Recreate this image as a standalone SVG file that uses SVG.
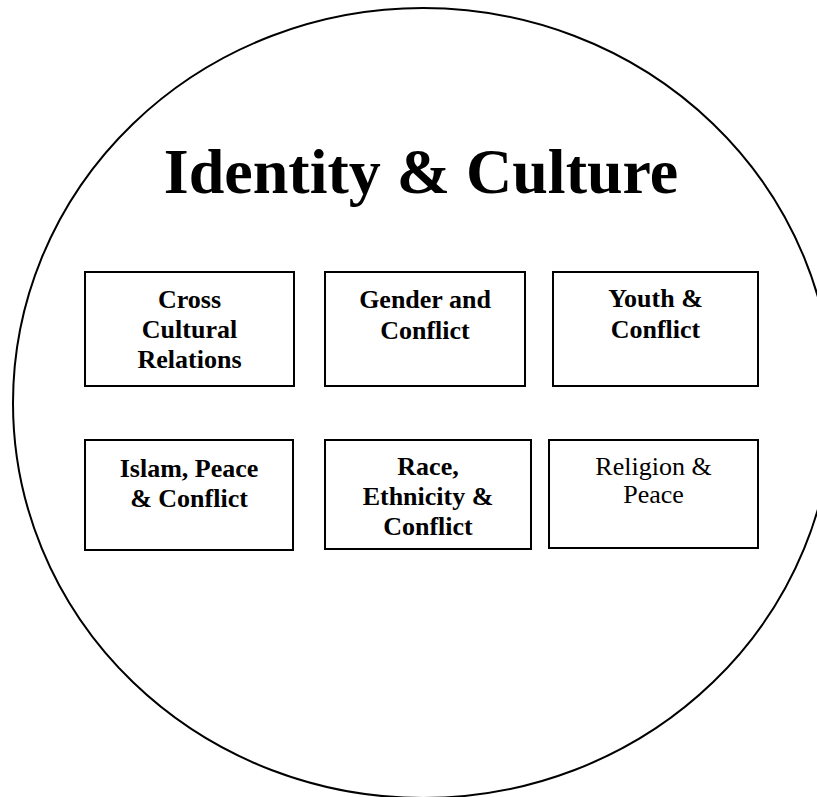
<svg xmlns="http://www.w3.org/2000/svg" width="817" height="797" viewBox="0 0 817 797">
<style>
.box{fill:#fff;stroke:#000;stroke-width:2}
.t{font-family:"Liberation Serif","Times New Roman",serif;font-size:26px;font-weight:bold;text-anchor:middle;fill:#000}
.r{font-weight:normal}
.title{font-family:"Liberation Serif","Times New Roman",serif;font-size:64px;font-weight:bold;text-anchor:middle;fill:#000}
</style>
<rect width="817" height="797" fill="#fff"/>
<g id="circle">
<ellipse cx="423" cy="403" rx="410" ry="395" fill="none" stroke="#000" stroke-width="2"/>
<text class="title" x="421" y="193">Identity &amp; Culture</text>
</g>
<g id="connectors"></g>
<g id="cross">
<rect class="box" x="85" y="272" width="209" height="114"/>
<text class="t" x="189.5" y="308">Cross</text>
<text class="t" x="189.5" y="338">Cultural</text>
<text class="t" x="189.5" y="368">Relations</text>
</g>
<g id="gender">
<rect class="box" x="325" y="272" width="200" height="114"/>
<text class="t" x="425" y="308">Gender and</text>
<text class="t" x="425" y="339">Conflict</text>
</g>
<g id="youth">
<rect class="box" x="553" y="272" width="205" height="114"/>
<text class="t" x="655.5" y="307">Youth &amp;</text>
<text class="t" x="655.5" y="338">Conflict</text>
</g>
<g id="islam">
<rect class="box" x="85" y="440" width="208" height="110"/>
<text class="t" x="189" y="477">Islam, Peace</text>
<text class="t" x="189" y="507">&amp; Conflict</text>
</g>
<g id="race">
<rect class="box" x="325" y="440" width="206" height="109"/>
<text class="t" x="428" y="475">Race,</text>
<text class="t" x="428" y="505">Ethnicity &amp;</text>
<text class="t" x="428" y="535">Conflict</text>
</g>
<g id="religion">
<rect class="box" x="549" y="440" width="209" height="108"/>
<text class="t r" x="653.5" y="475">Religion &amp;</text>
<text class="t r" x="653.5" y="503">Peace</text>
</g>
</svg>
